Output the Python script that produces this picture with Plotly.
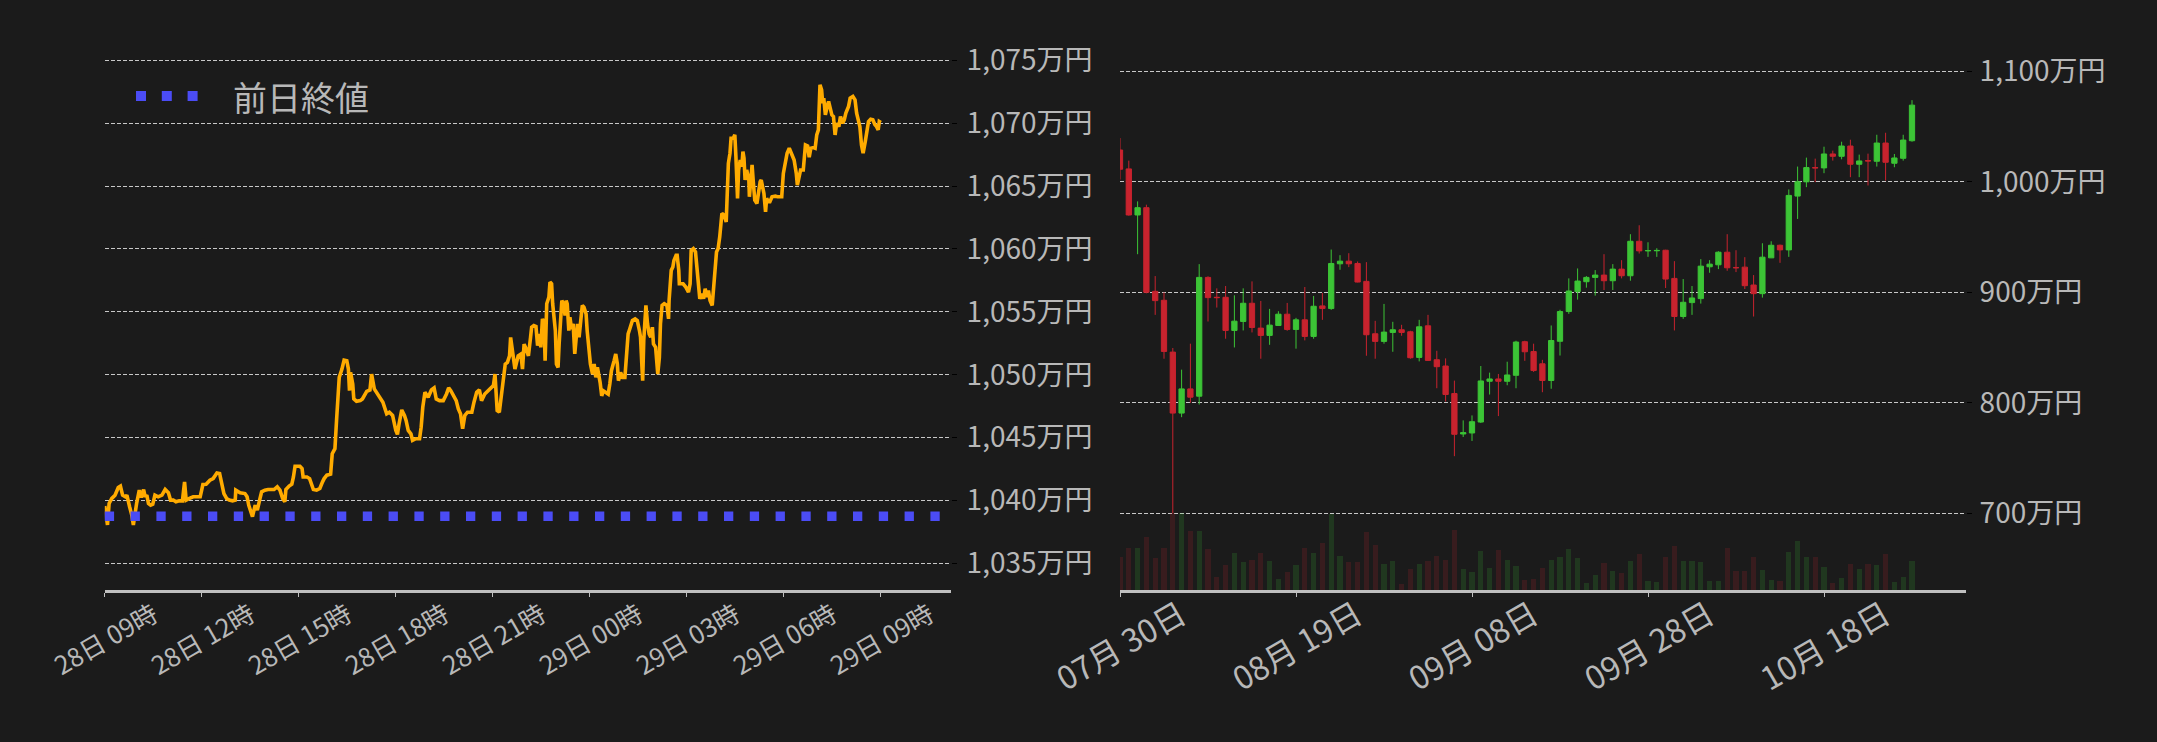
import pandas as pd
import plotly.graph_objects as go

W, H = 2157, 742
BG = "#1b1b1b"
TXT = "#b8b8b8"
GRID = "#c8c8c8"
AXIS = "#c0c0c0"
ORANGE = "#ffab00"
BLUE = "#4b4cf5"
UP = "#3cc436"
DOWN = "#c8232e"
UP_VOL = "rgba(60,196,54,0.17)"
DOWN_VOL = "rgba(200,35,46,0.17)"
FONT = "Noto Sans CJK JP"

# ---------------- intraday data (万円) ----------------
intraday_start = "2024-10-28 09:00"
minutes_a = [
    0, 5, 8, 13, 19, 25, 29, 33, 38, 41,
    46, 50, 53, 55, 59, 64, 68, 72, 75, 78,
    81, 85, 89, 93, 99, 106, 112, 118, 122, 127,
    132, 138, 144, 148, 151, 157, 164, 177, 182, 188,
    195, 201, 208, 213, 217, 221, 226, 231, 237, 242,
    243, 251, 260, 264, 267, 271, 274, 279, 283, 288,
    291, 297, 303, 314, 320, 325, 330, 334, 336, 342,
    347, 350, 353, 362, 366, 368, 375, 380, 384, 387,
    393, 399, 404, 407, 412, 419, 422, 427, 430, 433,
    435, 440, 444, 449, 452, 454, 456, 460, 462, 467,
    474, 478, 482, 486, 492, 495, 500, 504, 509, 516,
    520, 523, 528, 534, 540, 543, 546, 551, 556, 559,
    563, 568, 571, 577, 584, 587, 590, 594, 600, 606,
    611, 615, 621, 628, 634, 638, 642, 647, 652, 656,
    660, 664, 668, 673, 681, 685, 690, 695, 699, 705,
    712, 716, 721, 724, 728, 732, 736, 739, 743, 747,
    751, 753, 757, 761, 767, 772, 775, 778, 782, 786,
]
prices_a = [
    1039.55, 1038.05, 1039.76, 1040.16, 1040.42, 1041.03, 1041.14, 1040.42, 1040.29, 1040.42,
    1039.50, 1038.84, 1038.05, 1038.71, 1039.76, 1040.82, 1040.24, 1040.87, 1040.29, 1040.42,
    1039.76, 1039.63, 1039.71, 1040.42, 1040.29, 1040.42, 1040.87, 1040.61, 1040.03, 1040.03,
    1039.89, 1039.97, 1039.97, 1041.48, 1040.03, 1040.16, 1040.29, 1040.29, 1041.27, 1041.29,
    1041.61, 1041.74, 1042.19, 1042.14, 1041.35, 1040.55, 1040.16, 1040.03, 1039.97, 1040.03,
    1040.82, 1040.61, 1040.55, 1040.29, 1039.63, 1039.10, 1038.71, 1039.63, 1039.23, 1040.16,
    1040.69, 1040.82, 1040.87, 1040.87, 1041.08, 1040.82, 1040.16, 1039.89, 1040.87, 1041.14,
    1041.29, 1041.87, 1042.72, 1042.72, 1042.53, 1041.87, 1041.87, 1041.74, 1041.21, 1040.87,
    1040.82, 1040.95, 1041.48, 1041.74, 1042.01, 1042.09, 1043.72, 1044.12, 1046.36, 1048.47,
    1049.79, 1050.45, 1051.16, 1051.11, 1050.45, 1048.73, 1050.19, 1049.26, 1048.07, 1047.89,
    1047.94, 1048.07, 1048.34, 1048.68, 1048.79, 1050.05, 1048.87, 1048.60, 1048.21, 1047.81,
    1047.28, 1046.89, 1047.02, 1046.76, 1045.57, 1045.25, 1046.10, 1047.20, 1046.76, 1046.36,
    1045.57, 1045.30, 1044.78, 1044.91, 1044.91, 1045.83, 1047.41, 1048.60, 1048.21, 1048.79,
    1048.95, 1048.07, 1047.94, 1047.94, 1048.47, 1048.95, 1048.73, 1048.34, 1047.94, 1047.28,
    1046.89, 1045.70, 1046.76, 1047.02, 1047.02, 1047.81, 1048.60, 1048.79, 1047.94, 1048.47,
    1048.73, 1048.87, 1049.13, 1050.05, 1047.15, 1047.02, 1048.60, 1049.26, 1050.84, 1050.98,
    1051.50, 1052.96, 1051.90, 1050.45, 1051.50, 1051.64, 1050.45, 1052.43, 1052.03, 1051.50,
]
minutes_b = [
    790, 792, 796, 800, 803, 806, 809, 812, 815, 817,
    820, 824, 826, 829, 831, 833, 836, 838, 841, 843,
    846, 848, 851, 854, 856, 858, 861, 863, 866, 869,
    872, 874, 877, 880, 883, 886, 889, 893, 895, 899,
    901, 905, 908, 911, 914, 919, 922, 925, 930, 934,
    937, 940, 945, 948, 951, 953, 957, 961, 965, 968,
    971, 974, 979, 984, 988, 992, 994, 997, 998, 1000,
    1004, 1007, 1010, 1013, 1016, 1018, 1022, 1024, 1026, 1029,
    1031, 1034, 1038, 1043, 1046, 1047, 1051, 1054, 1056, 1060,
    1062, 1065, 1066, 1073, 1078, 1083, 1086, 1088, 1092, 1096,
    1099, 1102, 1104, 1108, 1111, 1114, 1117, 1120, 1123, 1127,
    1129, 1132, 1135, 1138, 1141, 1145, 1149, 1153, 1155, 1157,
    1160, 1162, 1166, 1169, 1171, 1174, 1176, 1179, 1182, 1184,
    1186, 1188, 1191, 1195, 1196, 1198, 1201, 1203, 1206, 1210,
    1213, 1216, 1218, 1221, 1223, 1226, 1228, 1231, 1234, 1238,
    1244, 1248, 1256, 1259, 1263, 1266, 1270, 1273, 1276, 1279,
    1283, 1285, 1287, 1291, 1296, 1300, 1304, 1307, 1310, 1315,
    1318, 1321, 1324, 1326, 1327, 1330, 1332, 1334, 1337, 1341,
    1343, 1346, 1349, 1352, 1355, 1358, 1362, 1365, 1369, 1372,
    1375, 1380, 1383, 1388, 1392, 1395, 1398, 1401, 1404, 1407,
    1411, 1414, 1417, 1421, 1425, 1429, 1432, 1435, 1437, 1440,
]
prices_b = [
    1052.98, 1053.78, 1053.91, 1053.83, 1052.31, 1053.24, 1052.18, 1054.44, 1054.04, 1051.12,
    1055.64, 1056.17, 1057.37, 1057.23, 1055.64, 1054.57, 1053.51, 1050.85, 1050.58, 1052.45,
    1054.84, 1055.90, 1055.64, 1054.71, 1055.90, 1055.64, 1053.51, 1054.57, 1053.64, 1054.04,
    1051.65, 1052.45, 1054.04, 1052.98, 1054.04, 1055.51, 1055.37, 1054.84, 1053.51, 1051.65,
    1050.85, 1050.05, 1050.85, 1049.79, 1050.59, 1049.39, 1048.32, 1048.72, 1048.59, 1048.46,
    1049.26, 1050.32, 1051.12, 1051.65, 1050.85, 1049.52, 1050.18, 1049.79, 1049.79, 1051.65,
    1053.24, 1053.64, 1054.31, 1054.44, 1054.31, 1053.51, 1052.98, 1050.32, 1049.52, 1052.71,
    1055.51, 1054.04, 1053.24, 1052.98, 1053.78, 1052.45, 1052.18, 1051.12, 1050.05, 1051.38,
    1054.04, 1055.51, 1055.64, 1055.51, 1054.44, 1055.90, 1058.30, 1058.56, 1059.09, 1059.49,
    1059.49, 1058.30, 1057.23, 1057.23, 1056.97, 1056.57, 1057.23, 1059.89, 1060.03, 1059.76,
    1058.03, 1056.44, 1056.04, 1056.44, 1056.04, 1056.84, 1056.17, 1056.70, 1055.90, 1055.51,
    1056.44, 1058.56, 1059.76, 1060.03, 1060.96, 1062.82, 1062.69, 1062.15, 1064.68, 1066.81,
    1067.61, 1068.80, 1068.80, 1069.07, 1067.34, 1064.02, 1066.28, 1067.07, 1066.54, 1067.74,
    1067.21, 1065.48, 1066.28, 1065.48, 1064.15, 1065.21, 1066.68, 1065.48, 1063.88, 1063.62,
    1064.68, 1065.35, 1065.48, 1064.81, 1064.41, 1062.95, 1064.02, 1063.75, 1063.75, 1064.15,
    1064.20, 1064.15, 1064.15, 1066.01, 1067.07, 1067.61, 1068.01, 1067.74, 1067.34, 1067.07,
    1066.01, 1065.08, 1065.48, 1066.28, 1066.28, 1068.27, 1068.19, 1067.29, 1068.01, 1068.06,
    1068.01, 1069.07, 1069.47, 1071.06, 1073.06, 1072.66, 1071.60, 1071.99, 1070.66, 1071.46,
    1071.73, 1071.20, 1070.66, 1070.53, 1069.07, 1070.00, 1069.73, 1070.53, 1070.00, 1070.27,
    1070.80, 1071.33, 1071.99, 1072.13, 1071.86, 1070.80, 1070.27, 1069.73, 1068.27, 1067.61,
    1068.54, 1069.20, 1070.13, 1070.32, 1070.27, 1069.87, 1069.73, 1069.47, 1070.13, 1070.05,
]
prev_close = 1038.75

intraday_tick_times = pd.date_range("2024-10-28 09:00", "2024-10-29 09:00", freq="3h")
intraday_tick_labels = ["28日 09時", "28日 12時", "28日 15時", "28日 18時", "28日 21時",
                        "29日 00時", "29日 03時", "29日 06時", "29日 09時"]
left_y_ticks = [1035, 1040, 1045, 1050, 1055, 1060, 1065, 1070, 1075]
left_y_labels = ["1,035万円", "1,040万円", "1,045万円", "1,050万円", "1,055万円",
                 "1,060万円", "1,065万円", "1,070万円", "1,075万円"]

# ---------------- daily data (万円) ----------------
day_start = "2024-07-30"
opens = [
    1028.8, 1011.7, 970.0, 976.6, 900.9, 892.8, 845.9, 790.7, 812.6, 806.0,
    913.5, 895.5, 895.5, 865.5, 873.6, 890.1, 867.6, 861.0, 870.0, 880.2,
    866.4, 875.1, 860.1, 887.7, 885.3, 925.8, 928.2, 926.1, 909.9, 862.5,
    855.6, 863.7, 866.1, 864.3, 841.1, 869.7, 839.0, 833.3, 808.4, 771.8,
    772.7, 782.6, 819.5, 821.6, 819.5, 824.9, 855.3, 846.4, 835.3, 820.2,
    855.7, 882.6, 900.6, 909.6, 913.5, 915.6, 910.5, 921.0, 915.0, 946.2,
    937.5, 937.6, 938.1, 912.6, 878.1, 890.7, 894.3, 923.1, 924.9, 936.3,
    922.5, 922.8, 906.6, 898.8, 931.2, 942.6, 938.4, 987.1, 1000.0, 1012.9,
    1012.6, 1025.2, 1023.1, 1032.4, 1015.9, 1019.2, 1018.6, 1035.1, 1016.8, 1021.3,
    1037.2,
]
highs = [
    1039.6, 1019.2, 982.3, 979.3, 914.7, 900.0, 849.6, 830.0, 853.5, 925.5,
    914.5, 903.6, 905.7, 897.3, 903.6, 909.9, 892.2, 885.0, 882.9, 890.4,
    876.9, 904.8, 896.7, 899.4, 938.7, 933.6, 935.4, 927.9, 927.3, 874.2,
    889.5, 873.3, 870.6, 865.2, 875.1, 879.6, 847.1, 840.2, 820.1, 784.1,
    788.6, 833.3, 827.3, 826.1, 837.2, 856.2, 856.2, 853.5, 838.9, 870.0,
    884.2, 912.6, 921.6, 914.7, 920.1, 934.5, 925.5, 929.1, 952.6, 960.7,
    945.3, 939.9, 938.5, 928.2, 912.0, 905.7, 930.0, 929.1, 937.2, 952.6,
    938.1, 931.8, 915.6, 944.4, 946.2, 943.2, 993.1, 1013.8, 1021.9, 1021.0,
    1031.8, 1028.2, 1036.3, 1038.1, 1024.6, 1025.5, 1042.6, 1044.4, 1025.2, 1042.6,
    1073.9,
]
lows = [
    1002.1, 969.4, 934.5, 899.1, 879.6, 839.9, 700.0, 787.0, 800.0, 798.5,
    873.6, 886.2, 858.0, 850.1, 865.5, 863.7, 839.9, 852.5, 869.7, 865.2,
    849.0, 856.5, 858.0, 875.1, 884.1, 920.4, 922.8, 909.0, 842.6, 839.9,
    853.5, 846.2, 860.7, 839.9, 837.5, 838.0, 813.2, 801.2, 751.7, 769.1,
    765.5, 781.7, 807.5, 788.0, 815.9, 813.2, 838.0, 828.0, 809.6, 812.7,
    842.8, 880.5, 893.4, 904.2, 897.0, 902.1, 902.1, 912.6, 910.5, 935.1,
    932.1, 932.1, 903.9, 865.5, 876.0, 879.6, 889.8, 917.7, 921.0, 919.5,
    918.3, 903.0, 878.1, 895.2, 931.0, 926.7, 932.1, 966.4, 995.2, 999.7,
    1007.8, 1019.2, 1020.4, 1004.2, 1004.2, 996.7, 1013.8, 1001.2, 1013.2, 1019.2,
    1036.3,
]
closes = [
    1011.4, 970.0, 976.6, 900.0, 892.5, 846.5, 790.7, 812.6, 805.1, 913.5,
    895.2, 895.2, 865.5, 873.9, 890.1, 868.2, 861.0, 870.3, 880.2, 866.4,
    875.1, 860.1, 887.4, 885.3, 926.1, 928.2, 925.8, 909.3, 861.6, 855.6,
    864.0, 866.1, 863.7, 840.8, 868.8, 838.4, 832.7, 807.5, 771.5, 773.0,
    782.9, 819.8, 821.6, 819.5, 825.2, 855.0, 846.2, 829.2, 820.2, 856.4,
    882.6, 901.2, 910.2, 913.5, 915.6, 910.5, 921.0, 915.0, 946.2, 937.5,
    937.8, 937.9, 912.0, 878.1, 891.0, 894.9, 923.7, 925.5, 936.3, 922.2,
    922.2, 906.0, 898.8, 931.8, 942.6, 938.4, 987.7, 1000.0, 1012.9, 1012.6,
    1025.2, 1023.1, 1032.4, 1015.9, 1018.9, 1018.9, 1035.1, 1017.7, 1021.6, 1037.8,
    1069.4,
]
volumes = [
    98, 125, 125, 158, 95, 125, 232, 232, 177, 177,
    122, 38, 74, 111, 84, 91, 111, 87, 33, 54,
    75, 126, 111, 141, 228, 102, 84, 84, 174, 135,
    78, 87, 18, 63, 78, 87, 102, 90, 180, 63,
    54, 117, 66, 120, 90, 72, 30, 33, 66, 90,
    99, 123, 96, 21, 45, 81, 57, 51, 87, 108,
    27, 24, 99, 132, 87, 87, 84, 27, 27, 126,
    57, 57, 99, 60, 30, 27, 114, 147, 99, 99,
    69, 21, 36, 78, 63, 78, 75, 108, 24, 39,
    87,
]
daily_tick_dates = ["2024-07-30", "2024-08-19", "2024-09-08", "2024-09-28", "2024-10-18"]
daily_tick_labels = ["07月 30日", "08月 19日", "09月 08日", "09月 28日", "10月 18日"]
right_y_ticks = [700, 800, 900, 1000, 1100]
right_y_labels = ["700万円", "800万円", "900万円", "1,000万円", "1,100万円"]

# ---------------- build ----------------
t0 = pd.Timestamp(intraday_start)
times = [t0 + pd.Timedelta(minutes=m) for m in minutes_a + minutes_b]
prices = prices_a + prices_b
days = pd.date_range(day_start, periods=len(opens), freq="D")
vol_colors = [UP_VOL if c >= o else DOWN_VOL for o, c in zip(opens, closes)]

def px_x(p):
    return p / W

def px_y(p):
    return 1 - p / H

x_left_dom = [px_x(104.8), px_x(951)]
x_right_dom = [px_x(1120), px_x(1966)]
y_dom = [px_y(590), px_y(50)]

fig = go.Figure()
fig.add_trace(go.Scatter(x=times, y=prices, mode="lines",
                         line=dict(color=ORANGE, width=3.6), xaxis="x", yaxis="y",
                         showlegend=False, hoverinfo="skip"))
fig.add_trace(go.Bar(x=days, y=volumes, marker=dict(color=vol_colors, line=dict(width=0)),
                     width=0.6 * 86400000, xaxis="x2", yaxis="y2", showlegend=False,
                     hoverinfo="skip"))
fig.add_trace(go.Candlestick(x=days, open=opens, high=highs, low=lows, close=closes,
                             increasing=dict(line=dict(color=UP, width=1), fillcolor=UP),
                             decreasing=dict(line=dict(color=DOWN, width=1), fillcolor=DOWN),
                             whiskerwidth=0, xaxis="x2", yaxis="y3", showlegend=False,
                             hoverinfo="skip"))

tickfont = dict(family=FONT, size=28, color=TXT)
grid_common = dict(showgrid=True, gridcolor=GRID, gridwidth=1, griddash="4px,2px",
                   zeroline=False, showline=False)

fig.update_layout(
    width=W, height=H, autosize=False, template="none",
    paper_bgcolor=BG, plot_bgcolor=BG,
    margin=dict(l=0, r=0, t=0, b=0),
    showlegend=False, boxgap=0.4, boxgroupgap=0, bargap=0,
    font=dict(family=FONT, color=TXT),
    xaxis=dict(domain=x_left_dom, anchor="y", type="date",
               range=["2024-10-28 09:00", "2024-10-29 11:10:05"],
               tickvals=list(intraday_tick_times), showticklabels=False,
               showgrid=False, zeroline=False, showline=True, linecolor=AXIS, linewidth=2.5,
               ticks="outside", ticklen=4, tickcolor=AXIS, tickwidth=1, automargin=False),
    yaxis=dict(domain=y_dom, anchor="x", side="right", range=[1032.88, 1075.82],
               tickvals=left_y_ticks, ticktext=left_y_labels, tickfont=tickfont,
               ticks="outside", ticklen=5, tickcolor="#000000", tickwidth=1,
               ticklabelstandoff=4, automargin=False, **grid_common),
    xaxis2=dict(domain=x_right_dom, anchor="y2", type="date",
                range=["2024-07-30 00:00", "2024-11-03 03:16"],
                tickvals=daily_tick_dates, showticklabels=False,
                showgrid=False, zeroline=False, showline=True, linecolor=AXIS, linewidth=2.5,
                ticks="outside", ticklen=4, tickcolor=AXIS, tickwidth=1,
                rangeslider=dict(visible=False), automargin=False),
    yaxis2=dict(domain=y_dom, anchor="x2", range=[0, 1620], visible=False,
                showgrid=False, zeroline=False),
    yaxis3=dict(domain=y_dom, anchor="x2", overlaying="y2", side="right",
                range=[630.6, 1119.3], tickvals=right_y_ticks, ticktext=right_y_labels,
                tickfont=tickfont, ticks="outside", ticklen=5, tickcolor="#000000",
                tickwidth=1, ticklabelstandoff=2, automargin=False, **grid_common),
)

shapes = [
    dict(type="line", xref="x domain", yref="y", x0=0, x1=1, y0=prev_close, y1=prev_close,
         line=dict(color=BLUE, width=9.5, dash="9.3px,16.5px"), layer="above"),
    dict(type="line", xref="paper", yref="paper", x0=px_x(136), x1=px_x(198),
         y0=px_y(96), y1=px_y(96), line=dict(color=BLUE, width=10, dash="10px,15.8px")),
]
fig.update_layout(shapes=shapes)

annotations = [dict(text="前日終値", xref="paper", yref="paper", x=px_x(231), y=px_y(96),
                    xanchor="left", yanchor="middle", showarrow=False,
                    font=dict(family=FONT, size=34, color=TXT))]
for tv, lab in zip(intraday_tick_times, intraday_tick_labels):
    annotations.append(dict(text=lab, xref="x", yref="paper", x=tv, y=px_y(637),
                            xanchor="center", yanchor="middle", textangle=-30,
                            showarrow=False, font=dict(family=FONT, size=25.5, color=TXT)))
for tv, lab in zip(daily_tick_dates, daily_tick_labels):
    annotations.append(dict(text=lab, xref="x2", yref="paper", x=tv, y=px_y(644),
                            xanchor="center", yanchor="middle", textangle=-30,
                            showarrow=False, font=dict(family=FONT, size=32, color=TXT)))
fig.update_layout(annotations=annotations)

fig.write_html("out.html", config={"displayModeBar": False},
               post_script="document.body.style.margin='0';document.body.style.background='#1b1b1b';")
